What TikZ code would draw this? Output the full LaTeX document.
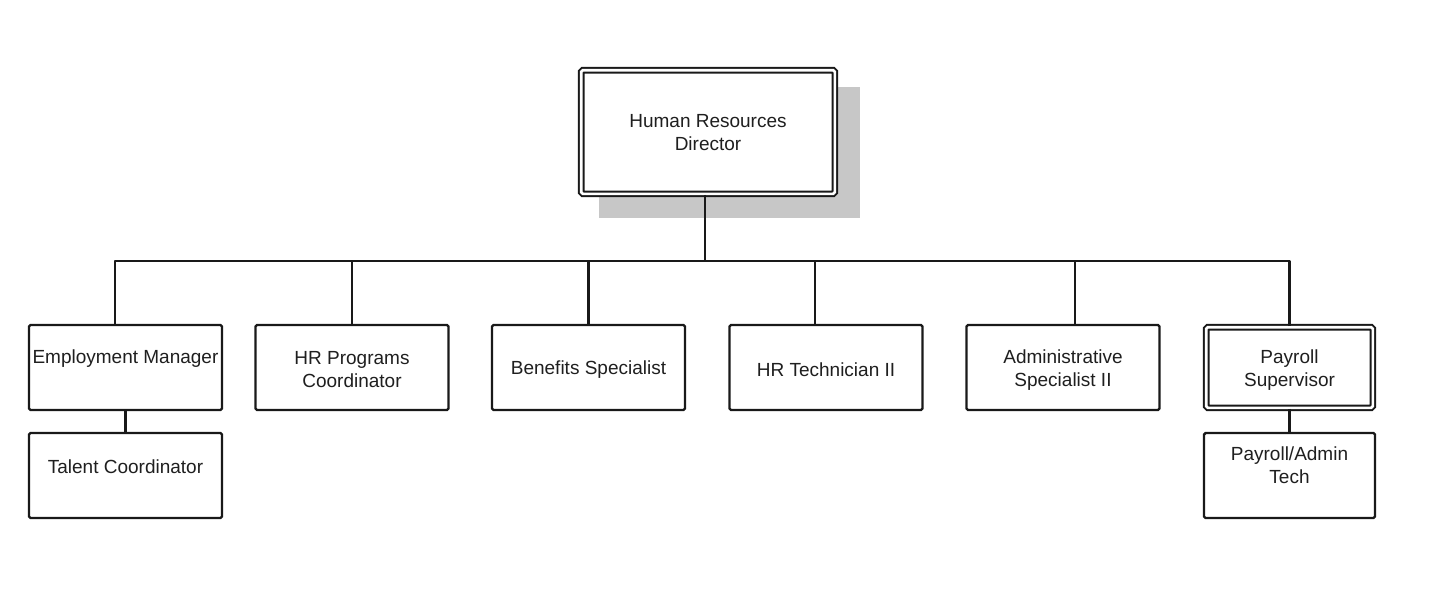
\documentclass[tikz,border=0pt]{standalone}
\usepackage{fontspec}
\setmainfont{Liberation Sans}
\begin{document}
\begin{tikzpicture}[x=0.5pt,y=-0.5pt,
  box/.style={draw=black!90, line width=1.15pt, rectangle, rounded corners=0.8pt, fill=white,
    minimum width=96.5pt, minimum height=42.5pt, inner sep=0pt},
  dbox/.style={draw=black!90, line width=1pt, double=white, double distance=1.3pt, rectangle,
    rounded corners=0.8pt, fill=white, inner sep=0pt},
  txt/.style={align=center, inner sep=0pt, text=black!88,
    font=\fontsize{9.5pt}{11.5pt}\selectfont},
  conn/.style={draw=black!90, line width=1.1pt, line join=round}]
\useasboundingbox (0,0) rectangle (1435,601);
\fill[white] (0,0) rectangle (1435,601);

% shadow of director box
\fill[black!22] (599,87) rectangle (860,218);

% boxes
\node[dbox, minimum width=126.8pt, minimum height=61.8pt] (dir) at (708,132) {};
\node[box] (em)   at (125.5,367.5) {};
\node[box] (hrp)  at (352,367.5) {};
\node[box] (ben)  at (588.5,367.5) {};
\node[box] (tech) at (826,367.5) {};
\node[box] (adm)  at (1063,367.5) {};
\node[dbox, minimum width=83.3pt, minimum height=40.3pt] (pay) at (1289.5,367.5) {};
\node[box] (tal)  at (125.5,475.5) {};
\node[box, minimum width=85.5pt] (pat) at (1289.5,475.5) {};

% texts
\node[txt] (dirt)  at (708,133) {Human Resources\\Director};
\node[txt] (emt)   at (125.5,359) {Employment Manager};
\node[txt] (hrpt)  at (352,370) {HR Programs\\Coordinator};
\node[txt] (bent)  at (588.5,370) {Benefits Specialist};
\node[txt] (techt) at (826,369.5) {HR Technician II};
\node[txt] (admt)  at (1063,370) {Administrative\\Specialist II};
\node[txt] (payt)  at (1289.5,370) {Payroll\\Supervisor};
\node[txt] (talt)  at (125.5,467) {Talent Coordinator};
\node[txt] (patt)  at (1289.5,465.5) {Payroll/Admin\\Tech};

% connectors
\coordinate (bus) at (705,261);
\draw[conn] ([xshift=-1.5pt]dir.south) -- (bus);
\draw[conn] ([xshift=-5.25pt]em.north) |- (bus);
\draw[conn] (hrp.north) |- (bus);
\draw[conn] (ben.north) |- (bus);
\draw[conn] ([xshift=-5.5pt]tech.north) |- (bus);
\draw[conn] ([xshift=6pt]adm.north) |- (bus);
\draw[conn] (pay.north) |- (bus);
\draw[conn] (em.south) -- (tal.north);
\draw[conn] (pay.south) -- (pat.north);
\end{tikzpicture}
\end{document}
